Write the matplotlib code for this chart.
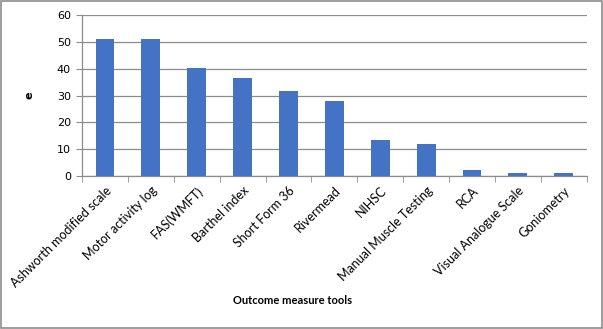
import matplotlib.pyplot as plt
import numpy as np

tools = ['Ashworth modified scale', 'Motor activity log', 'FAS(WMFT)', 'Barthel index',
         'Short Form 36', 'Rivermead', 'NIHSC', 'Manual Muscle Testing', 'RCA',
         'Visual Analogue Scale', 'Goniometry']
values = [51, 51, 40.2, 36.6, 31.7, 28, 13.4, 12, 2.3, 1.1, 1.1]
y_ticks = [0, 10, 20, 30, 40, 50, 60]

fig = plt.figure(figsize=(6.03, 3.29), dpi=100)
ax = fig.add_axes([0.136, 0.465, 0.837, 0.489])

x = np.arange(len(tools))
ax.bar(x, values, width=0.41, color='#4472C4', zorder=3)

ax.set_xlim(-0.5, len(tools) - 0.5)
ax.set_ylim(0, 60)
ax.set_yticks(y_ticks)
ax.set_yticklabels([str(v) for v in y_ticks], fontsize=8, family='DejaVu Sans')
ax.yaxis.grid(True, color='#8c8c8c', linewidth=0.9, zorder=0)

# category labels centred on bars, tick marks on the category boundaries
ax.set_xticks(x)
ax.set_xticklabels(tools, rotation=45, ha='right', rotation_mode='anchor',
                   fontsize=9, family='Lato')
ax.tick_params(axis='x', length=0, pad=6)
ax.set_xticks(np.arange(len(tools) + 1) - 0.5, minor=True)
ax.tick_params(axis='x', which='minor', length=4, color='#8c8c8c')
ax.tick_params(axis='y', length=4, color='#8c8c8c', pad=4)

for side in ['top', 'right']:
    ax.spines[side].set_visible(False)
for side in ['left', 'bottom']:
    ax.spines[side].set_color('#8c8c8c')
    ax.spines[side].set_linewidth(0.9)

ax.set_ylabel('e', fontsize=8, fontweight='bold', labelpad=16)
fig.text(0.485, 0.088, 'Outcome measure tools', ha='center', va='center',
         fontsize=8, fontweight='bold', family='Lato')

# grey frame round the whole chart
fig.patches.append(plt.Rectangle((0.002, 0.003), 0.996, 0.994, transform=fig.transFigure,
                                 fill=False, edgecolor='#8c8c8c', linewidth=1.2))

fig.savefig('out.png', dpi=100)
